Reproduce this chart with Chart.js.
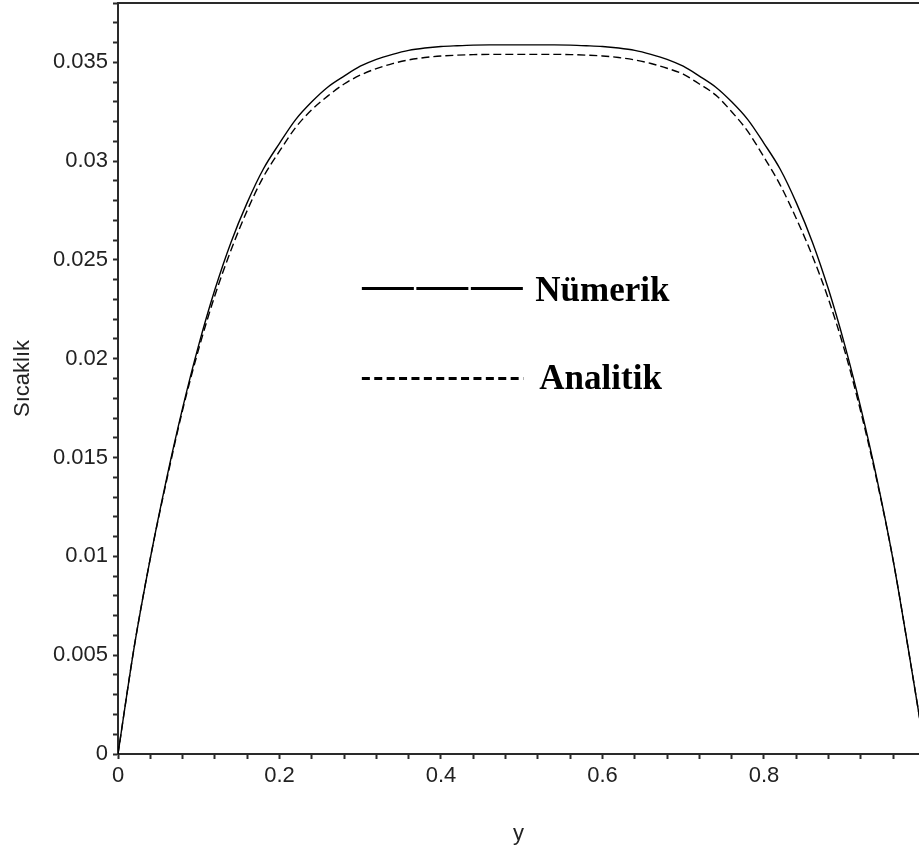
<!DOCTYPE html>
<html>
<head>
<meta charset="utf-8">
<script src="https://cdn.jsdelivr.net/npm/chart.js@4"></script>
<style>
  html, body { margin: 0; padding: 0; background: #ffffff; }
  #wrap { width: 919px; height: 855px; position: relative; }
</style>
</head>
<body>
<div id="wrap"><canvas id="c" width="919" height="855"></canvas></div>
<script>
// ---- data ----
const yPositions = [0, 0.02, 0.04, 0.06, 0.08, 0.10, 0.12, 0.14, 0.16, 0.18, 0.20, 0.22, 0.24, 0.26, 0.28, 0.30, 0.32, 0.34, 0.36, 0.38, 0.40, 0.42, 0.44, 0.46, 0.48, 0.50, 0.52, 0.54, 0.56, 0.58, 0.60, 0.62, 0.64, 0.66, 0.68, 0.70, 0.72, 0.74, 0.76, 0.78, 0.80, 0.82, 0.84, 0.86, 0.88, 0.90, 0.92, 0.94, 0.96, 0.98, 1.00];
const numerik = [0, 0.0054, 0.0099, 0.0139, 0.0175, 0.0207, 0.0235, 0.0259, 0.0279, 0.0296, 0.0309, 0.0321, 0.0330, 0.03375, 0.0343, 0.0348, 0.03515, 0.0354, 0.0356, 0.03572, 0.0358, 0.03584, 0.03587, 0.03588, 0.03588, 0.03588, 0.03588, 0.03588, 0.03587, 0.03584, 0.0358, 0.03572, 0.0356, 0.0354, 0.03515, 0.0348, 0.0343, 0.03375, 0.0330, 0.0321, 0.0309, 0.0296, 0.0279, 0.0259, 0.0235, 0.0207, 0.0175, 0.0139, 0.0098, 0.0050, 0];
const analitik = [0, 0.0054, 0.0099, 0.0138, 0.0174, 0.0205, 0.0232, 0.0255, 0.0275, 0.0292, 0.0305, 0.0317, 0.0326, 0.0333, 0.0339, 0.03435, 0.03468, 0.03493, 0.03512, 0.03524, 0.03532, 0.03536, 0.03539, 0.0354, 0.0354, 0.0354, 0.0354, 0.0354, 0.03539, 0.03536, 0.03532, 0.03524, 0.03512, 0.03494, 0.0347, 0.0344, 0.0339, 0.03335, 0.0325, 0.0315, 0.0302, 0.0288, 0.0271, 0.0252, 0.0230, 0.0204, 0.0173, 0.0138, 0.0098, 0.0050, 0];
const seriesNames = ['Nümerik', 'Analitik'];
const xTickLabels = ['0', '0.2', '0.4', '0.6', '0.8'];
const yTickLabels = ['0', '0.005', '0.01', '0.015', '0.02', '0.025', '0.03', '0.035'];
const xTitle = 'y';
const yTitle = 'Sıcaklık';

const toPoints = (vals) => yPositions.map((x, i) => ({ x: x, y: vals[i] }));

const AXIS = '#2a2a2a';
const TICKFONT = { family: 'Liberation Sans, Arial, sans-serif', size: 22 };

// legend drawn inside the plot area (as in the reference)
const innerLegend = {
  id: 'innerLegend',
  afterDatasetsDraw(chart) {
    const ctx = chart.ctx;
    const xs = chart.scales.x, ys = chart.scales.y;
    const x0 = xs.getPixelForValue(0.302), x1 = xs.getPixelForValue(0.502);
    const rows = [
      { y: ys.getPixelForValue(0.02356), dash: [52, 2.5], name: seriesNames[0], tx: 12, ty: 13 },
      { y: ys.getPixelForValue(0.01900), dash: [8, 4.4], name: seriesNames[1], tx: 16, ty: 10 }
    ];
    ctx.save();
    rows.forEach(r => {
      ctx.beginPath();
      ctx.setLineDash(r.dash);
      ctx.lineWidth = 3;
      ctx.strokeStyle = '#000';
      ctx.moveTo(x0, r.y);
      ctx.lineTo(x1, r.y);
      ctx.stroke();
      ctx.setLineDash([]);
      ctx.fillStyle = '#000';
      ctx.font = 'bold 35px "Liberation Serif", "Times New Roman", serif';
      ctx.textBaseline = 'alphabetic';
      ctx.textAlign = 'left';
      ctx.fillText(r.name, x1 + r.tx, r.y + r.ty);
    });
    ctx.restore();
  }
};

new Chart(document.getElementById('c'), {
  type: 'line',
  data: {
    datasets: [
      {
        label: seriesNames[0],
        data: toPoints(numerik),
        borderColor: '#000',
        borderWidth: 1.4,
        pointRadius: 0,
        cubicInterpolationMode: 'monotone',
        fill: false
      },
      {
        label: seriesNames[1],
        data: toPoints(analitik),
        borderColor: '#000',
        borderWidth: 1.4,
        borderDash: [8, 4],
        pointRadius: 0,
        cubicInterpolationMode: 'monotone',
        fill: false
      }
    ]
  },
  options: {
    responsive: false,
    animation: false,
    layout: { padding: { top: 3, right: 0, left: 0, bottom: 0 } },
    plugins: { legend: { display: false }, tooltip: { enabled: false } },
    scales: {
      x: {
        type: 'linear',
        position: 'bottom',
        min: 0,
        max: 0.992,
        afterFit: (s) => { s.height = 101; s.paddingLeft = 0; s.paddingRight = 0; },
        grid: { drawOnChartArea: false, drawTicks: true, tickLength: 5, tickColor: AXIS, tickWidth: 2 },
        border: { display: true, color: AXIS, width: 2 },
        ticks: {
          stepSize: 0.04,
          includeBounds: false,
          autoSkip: false,
          maxTicksLimit: 1000,
          maxRotation: 0,
          padding: 4,
          color: '#222',
          font: TICKFONT,
          callback: (v) => {
            const k = Math.round(v * 100);
            return (k % 20 === 0) ? xTickLabels[k / 20] : '';
          }
        },
        title: {
          display: true,
          text: xTitle,
          color: '#222',
          font: TICKFONT,
          padding: { top: 0, bottom: 8 }
        }
      },
      xTop: {
        type: 'linear',
        position: 'top',
        min: 0,
        max: 0.992,
        afterFit: (s) => { s.height = 0; s.paddingLeft = 0; s.paddingRight = 0; },
        grid: { display: false, drawTicks: false },
        border: { display: true, color: AXIS, width: 2 },
        ticks: { display: false }
      },
      y: {
        type: 'linear',
        position: 'left',
        min: 0,
        max: 0.038,
        afterFit: (s) => { s.width = 118; s.paddingTop = 0; s.paddingBottom = 0; },
        grid: { drawOnChartArea: false, drawTicks: true, tickLength: 5, tickColor: AXIS, tickWidth: 2 },
        border: { display: true, color: AXIS, width: 2 },
        ticks: {
          stepSize: 0.001,
          autoSkip: false,
          maxTicksLimit: 1000,
          padding: 5,
          color: '#222',
          font: TICKFONT,
          callback: (v) => {
            const k = Math.round(v * 1000);
            return (k % 5 === 0) ? yTickLabels[k / 5] : '';
          }
        },
        title: {
          display: true,
          text: yTitle,
          color: '#222',
          font: TICKFONT,
          padding: { top: 10, bottom: 0 }
        }
      }
    }
  },
  plugins: [innerLegend]
});
</script>
</body>
</html>
